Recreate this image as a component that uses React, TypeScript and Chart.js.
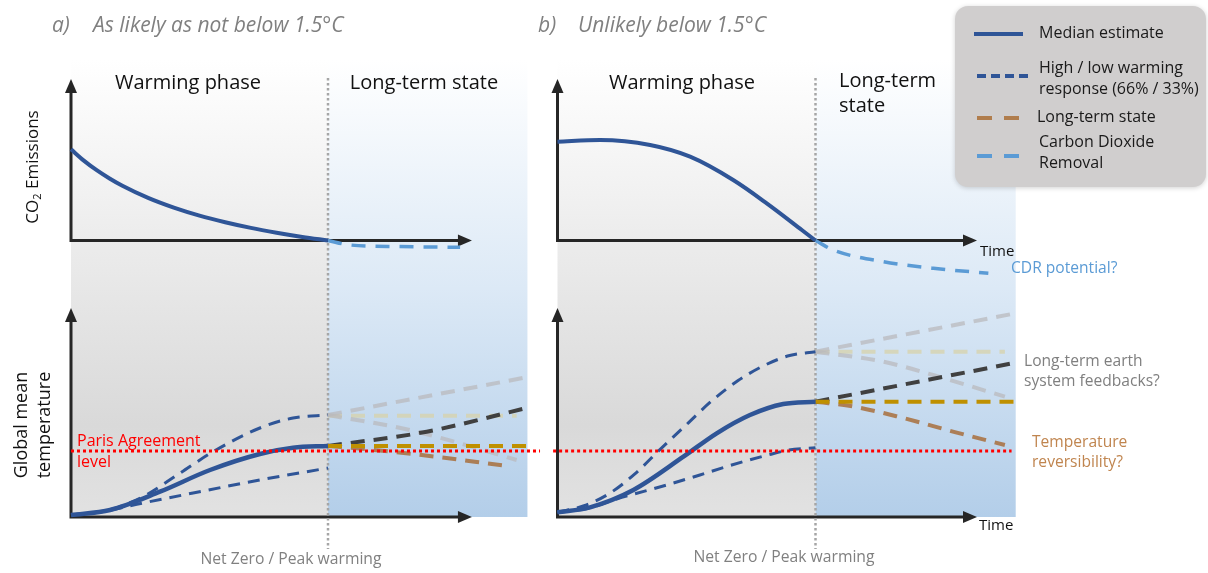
import React, { useEffect, useRef } from "react";
import { Chart, registerables } from "chart.js";
Chart.register(...registerables);

// ---------- DATA (schematic units: time 0 = start, 10 = net zero) ----------
// Panel a — CO2 emissions
const aEmisT = [0, 0.5, 1, 1.5, 2, 3, 4, 5, 6, 7, 8, 9, 10];
const aEmisMedian = [1.013, 0.888, 0.781, 0.689, 0.608, 0.473, 0.365, 0.276, 0.203, 0.14, 0.087, 0.04, 0];
const aCdrT = [10, 10.86, 12.8, 15.14];
const aCdr = [0, -0.05, -0.067, -0.076];
// Panel b — CO2 emissions
const bEmisT = [0, 1.65, 3.59, 5.14, 6.81, 8.11, 9.47, 10];
const bEmisMedian = [1.098, 1.117, 1.061, 0.931, 0.672, 0.413, 0.117, 0];
const bCdrT = [10, 10.69, 12.63, 14.57, 16.7];
const bCdr = [0, -0.106, -0.236, -0.309, -0.364];

// Panel a — temperature
const aMedT = [0, 1.52, 3.46, 5.41, 7.35, 8.64, 10];
const aMed = [0.045, 0.16, 0.575, 1.068, 1.432, 1.575, 1.614];
const aHighT = [0, 1.52, 2.8, 4.2, 5.53, 7.35, 8.64, 10];
const aHigh = [0.045, 0.17, 0.461, 0.98, 1.484, 2.023, 2.25, 2.318];
const aLowT = [0, 1.2, 2.8, 4.75, 7.35, 10];
const aLow = [0.045, 0.12, 0.318, 0.545, 0.841, 1.114];
const aFbUpT = [10, 17.73];
const aFbUp = [2.318, 3.175];
const aFbFlatT = [10, 17.34];
const aFbFlat = [2.3, 2.3];
const aFbDownT = [10, 13.19, 15.14, 17.34];
const aFbDown = [2.318, 1.977, 1.675, 1.295];
const aDarkT = [10, 13.84, 17.67];
const aDark = [1.614, 1.939, 2.47];
const aGoldT = [10, 17.78];
const aGold = [1.614, 1.614];
const aBrownT = [10, 11.5, 13.31, 16.89];
const aBrown = [1.614, 1.54, 1.432, 1.166];
const aParisT = [0, 18.25];

// Panel b — temperature
const bMedT = [0, 1.26, 2.94, 4.88, 6.17, 7.46, 8.75, 10];
const bMed = [0.107, 0.22, 0.614, 1.37, 1.902, 2.318, 2.568, 2.62];
const bHighT = [0, 1, 2, 3, 4, 5, 6, 7, 8, 9, 10];
const bHigh = [0.107, 0.25, 0.53, 0.98, 1.55, 2.1, 2.65, 3.1, 3.44, 3.67, 3.757];
const bLowT = [0, 1.2, 2.29, 4.23, 5.52, 6.36, 7.27, 8.17, 8.95, 10];
const bLow = [0.107, 0.2, 0.409, 0.727, 0.955, 1.11, 1.27, 1.41, 1.52, 1.575];
const bFbUpT = [10, 17.76];
const bFbUp = [3.757, 4.63];
const bFbFlatT = [10, 17.34];
const bFbFlat = [3.757, 3.757];
const bFbDownT = [10, 12.62, 15.21, 17.34];
const bFbDown = [3.757, 3.53, 3.114, 2.734];
const bDarkT = [10, 17.76];
const bDark = [2.62, 3.507];
const bGoldT = [10, 17.76];
const bGold = [2.62, 2.62];
const bBrownT = [10, 11.3, 13.27, 15.4, 17.34];
const bBrown = [2.62, 2.53, 2.27, 1.93, 1.636];
const bParisT = [-0.17, 17.6];

const parisLevel = 1.5;

// ---------- helpers ----------
const pts = (ts: number[], vs: number[]) => ts.map((t, i) => ({ x: t, y: vs[i] }));
const C = {
  blue: "#2f5597",
  cdr: "#5b9bd5",
  lightGray: "rgba(185,185,190,0.75)",
  beige: "rgba(215,210,170,0.75)",
  dark: "#404040",
  gold: "#bf9000",
  brown: "rgba(168,110,60,0.85)",
  red: "#ff0000",
};
const FONT = "'Open Sans', 'Noto Sans', sans-serif";

function line(label: string, data: any[], xID: string, yID: string, color: string, width: number, dash: number[] = [], smooth = true) {
  return {
    label,
    data,
    xAxisID: xID,
    yAxisID: yID,
    borderColor: color,
    borderWidth: width,
    borderDash: dash,
    pointRadius: 0,
    fill: false,
    cubicInterpolationMode: smooth ? "monotone" : "default",
    tension: 0,
    borderCapStyle: "butt",
  };
}

const LT_DASH = [14, 9];

const decorPlugin = {
  id: "decor",
  beforeDatasetsDraw(chart: any) {
    const { ctx, scales } = chart;
    const xA = scales.xA, xB = scales.xB, yE = scales.yE, yT = scales.yT;
    const top = 60;
    const bottom = yT.getPixelForValue(0);
    const panels = [
      { x: xA, end: 17.76, tip: 15.6 },
      { x: xB, end: 17.76, tip: 16.26 },
    ];
    ctx.save();
    for (const p of panels) {
      const x0 = p.x.getPixelForValue(0);
      const xn = p.x.getPixelForValue(10);
      const xe = p.x.getPixelForValue(p.end);
      const g = ctx.createLinearGradient(0, top, 0, bottom);
      g.addColorStop(0, "#ffffff");
      g.addColorStop(0.5, "#e7e7e7");
      g.addColorStop(0.8, "#d9d9d9");
      g.addColorStop(1, "#e2e2e2");
      ctx.fillStyle = g;
      ctx.fillRect(x0, top, xn - x0, bottom - top);
      const gb = ctx.createLinearGradient(0, top, 0, bottom);
      gb.addColorStop(0, "#ffffff");
      gb.addColorStop(0.5, "#dce9f6");
      gb.addColorStop(1, "#b3cee9");
      ctx.fillStyle = gb;
      ctx.fillRect(xn, top, xe - xn, bottom - top);
    }
    // axes with arrows
    ctx.strokeStyle = "#262626";
    ctx.fillStyle = "#262626";
    ctx.lineWidth = 3;
    const arrowUp = (x: number, y: number) => {
      ctx.beginPath();
      ctx.moveTo(x, y);
      ctx.lineTo(x - 6, y + 14);
      ctx.lineTo(x + 6, y + 14);
      ctx.closePath();
      ctx.fill();
    };
    const arrowRight = (x: number, y: number) => {
      ctx.beginPath();
      ctx.moveTo(x, y);
      ctx.lineTo(x - 14, y - 6);
      ctx.lineTo(x - 14, y + 6);
      ctx.closePath();
      ctx.fill();
    };
    for (const p of panels) {
      const x0 = p.x.getPixelForValue(0);
      const xt = p.x.getPixelForValue(p.tip);
      for (const [ys, tipV] of [[yE, 1.794], [yT, 4.75]] as any) {
        const y0 = ys.getPixelForValue(0);
        const yt = ys.getPixelForValue(tipV);
        ctx.beginPath();
        ctx.moveTo(x0, y0 + 1.5);
        ctx.lineTo(x0, yt + 10);
        ctx.moveTo(x0 - 1.5, y0);
        ctx.lineTo(xt - 10, y0);
        ctx.stroke();
        arrowUp(x0, yt);
        arrowRight(xt, y0);
      }
    }
    // net-zero dotted verticals
    ctx.strokeStyle = "#a6a6a6";
    ctx.lineWidth = 2.5;
    ctx.setLineDash([2.5, 2.5]);
    for (const p of panels) {
      const xn = p.x.getPixelForValue(10);
      ctx.beginPath();
      ctx.moveTo(xn, 78);
      ctx.lineTo(xn, 549);
      ctx.stroke();
    }
    ctx.restore();
  },
  afterDraw(chart: any) {
    const { ctx } = chart;
    ctx.save();
    const txt = (s: string, x: number, y: number, size: number, color: string, align = "left", base = "middle", style = "") => {
      ctx.font = `${style} ${size}px ${FONT}`;
      ctx.fillStyle = color;
      ctx.textAlign = align;
      ctx.textBaseline = base;
      ctx.fillText(s, x, y);
    };
    // titles
    txt("a)", 52, 32, 21, "#808080", "left", "alphabetic", "italic");
    txt("As likely as not below 1.5°C", 93, 32, 21, "#808080", "left", "alphabetic", "italic");
    txt("b)", 538, 32, 21, "#808080", "left", "alphabetic", "italic");
    txt("Unlikely below 1.5°C", 578, 32, 21, "#808080", "left", "alphabetic", "italic");
    // phase labels
    txt("Warming phase", 188, 89, 20, "#111", "center", "alphabetic");
    txt("Long-term state", 424, 89, 20, "#111", "center", "alphabetic");
    txt("Warming phase", 682, 89, 20, "#111", "center", "alphabetic");
    txt("Long-term", 839, 87, 20, "#111", "left", "alphabetic");
    txt("state", 839, 112, 20, "#111", "left", "alphabetic");
    // Time labels
    txt("Time", 980, 252, 15, "#111");
    txt("Time", 979, 526, 15, "#111");
    // annotations
    txt("CDR potential?", 1011, 269, 15.6, C.cdr);
    txt("Long-term earth", 1024, 362, 15.6, "#7f7f7f");
    txt("system feedbacks?", 1024, 382, 15.6, "#7f7f7f");
    txt("Temperature", 1032, 443, 15.6, "#c0854f");
    txt("reversibility?", 1032, 463, 15.6, "#c0854f");
    txt("Paris Agreement", 77, 446, 16, C.red, "left", "alphabetic");
    txt("level", 77, 467, 16, C.red, "left", "alphabetic");
    txt("Net Zero / Peak warming", 291, 560, 15.7, "#808080", "center");
    txt("Net Zero / Peak warming", 784, 558, 15.7, "#808080", "center");

    // rotated axis titles
    ctx.save();
    ctx.translate(33, 167);
    ctx.rotate(-Math.PI / 2);
    ctx.fillStyle = "#111";
    ctx.textBaseline = "middle";
    ctx.textAlign = "left";
    ctx.font = `17px ${FONT}`;
    const w1 = ctx.measureText("CO").width;
    const w3 = ctx.measureText(" Emissions").width;
    ctx.font = `11px ${FONT}`;
    const w2 = ctx.measureText("2").width;
    let sx = -(w1 + w2 + w3) / 2;
    ctx.font = `17px ${FONT}`;
    ctx.fillText("CO", sx, 0);
    ctx.font = `11px ${FONT}`;
    ctx.fillText("2", sx + w1, 5);
    ctx.font = `17px ${FONT}`;
    ctx.fillText(" Emissions", sx + w1 + w2, 0);
    ctx.restore();

    ctx.save();
    ctx.translate(22, 425);
    ctx.rotate(-Math.PI / 2);
    txt("Global mean", 0, 0, 18, "#111", "center");
    ctx.restore();
    ctx.save();
    ctx.translate(45, 425);
    ctx.rotate(-Math.PI / 2);
    txt("temperature", 0, 0, 18, "#111", "center");
    ctx.restore();

    // legend box
    ctx.save();
    ctx.shadowColor = "rgba(0,0,0,0.18)";
    ctx.shadowBlur = 5;
    ctx.shadowOffsetY = 1;
    ctx.fillStyle = "#d0cece";
    ctx.beginPath();
    (ctx as any).roundRect(955, 6, 251, 181, 13);
    ctx.fill();
    ctx.restore();
    const legLine = (x1: number, x2: number, y: number, color: string, dash: number[]) => {
      ctx.save();
      ctx.strokeStyle = color;
      ctx.lineWidth = 4;
      ctx.setLineDash(dash);
      ctx.beginPath();
      ctx.moveTo(x1, y);
      ctx.lineTo(x2, y);
      ctx.stroke();
      ctx.restore();
    };
    legLine(974, 1023, 34, C.blue, []);
    legLine(977, 1028, 76, C.blue, [9, 5]);
    legLine(977, 1020, 118, "#b07d4d", [15, 12]);
    legLine(977, 1020, 156, C.cdr, [15, 12]);
    txt("Median estimate", 1039, 33, 16, "#1a1a1a");
    txt("High / low warming", 1039, 68, 16, "#1a1a1a");
    txt("response (66% / 33%)", 1039, 89, 16, "#1a1a1a");
    txt("Long-term state", 1037, 117, 16, "#1a1a1a");
    txt("Carbon Dioxide", 1039, 142, 16, "#1a1a1a");
    txt("Removal", 1039, 163, 16, "#1a1a1a");
    ctx.restore();
  },
};

export default function App() {
  const ref = useRef<HTMLCanvasElement | null>(null);
  useEffect(() => {
    if (!ref.current) return;
    const datasets: any[] = [
      // drawn on top first
      line("Paris a", pts(aParisT, [parisLevel, parisLevel]), "xA", "yT", C.red, 3, [3, 3], false),
      line("Paris b", pts(bParisT, [parisLevel, parisLevel]), "xB", "yT", C.red, 3, [3, 3], false),
      line("Emis a", pts(aEmisT, aEmisMedian), "xA", "yE", C.blue, 4),
      line("Emis b", pts(bEmisT, bEmisMedian), "xB", "yE", C.blue, 4),
      line("CDR a", pts(aCdrT, aCdr), "xA", "yE", C.cdr, 3.5, [14, 10]),
      line("CDR b", pts(bCdrT, bCdr), "xB", "yE", C.cdr, 3.5, [14, 10]),
      line("Median a", pts(aMedT, aMed), "xA", "yT", C.blue, 4.5),
      line("Median b", pts(bMedT, bMed), "xB", "yT", C.blue, 4.5),
      line("High a", pts(aHighT, aHigh), "xA", "yT", C.blue, 3, [12, 8]),
      line("Low a", pts(aLowT, aLow), "xA", "yT", C.blue, 3, [12, 8]),
      line("High b", pts(bHighT, bHigh), "xB", "yT", C.blue, 3, [12, 8]),
      line("Low b", pts(bLowT, bLow), "xB", "yT", C.blue, 3, [12, 8]),
      line("Gold a", pts(aGoldT, aGold), "xA", "yT", C.gold, 4, LT_DASH, false),
      line("Gold b", pts(bGoldT, bGold), "xB", "yT", C.gold, 4, LT_DASH, false),
      line("Dark a", pts(aDarkT, aDark), "xA", "yT", C.dark, 4, LT_DASH),
      line("Dark b", pts(bDarkT, bDark), "xB", "yT", C.dark, 4, LT_DASH, false),
      line("Brown a", pts(aBrownT, aBrown), "xA", "yT", C.brown, 4, LT_DASH),
      line("Brown b", pts(bBrownT, bBrown), "xB", "yT", C.brown, 4, LT_DASH),
      line("FbDown a", pts(aFbDownT, aFbDown), "xA", "yT", C.lightGray, 4, LT_DASH),
      line("FbDown b", pts(bFbDownT, bFbDown), "xB", "yT", C.lightGray, 4, LT_DASH),
      line("FbUp a", pts(aFbUpT, aFbUp), "xA", "yT", C.lightGray, 4, LT_DASH, false),
      line("FbUp b", pts(bFbUpT, bFbUp), "xB", "yT", C.lightGray, 4, LT_DASH, false),
      line("FbFlat a", pts(aFbFlatT, aFbFlat), "xA", "yT", C.beige, 4, LT_DASH, false),
      line("FbFlat b", pts(bFbFlatT, bFbFlat), "xB", "yT", C.beige, 4, LT_DASH, false),
    ];
    const chart = new Chart(ref.current, {
      type: "line",
      data: { datasets },
      options: {
        animation: false,
        responsive: false,
        devicePixelRatio: 1,
        parsing: false,
        normalized: true,
        layout: { padding: 0 },
        events: [],
        plugins: { legend: { display: false }, tooltip: { enabled: false }, title: { display: false } },
        scales: {
          xA: { type: "linear", axis: "x", display: false, min: -71 / 25.7, max: (1208 - 71) / 25.7 },
          xB: { type: "linear", axis: "x", display: false, min: -557.5 / 25.8, max: (1208 - 557.5) / 25.8 },
          yE: { type: "linear", axis: "y", display: false, min: -(573 - 240.5) / 90, max: 240.5 / 90 },
          yT: { type: "linear", axis: "y", display: false, min: -(573 - 517) / 44, max: 517 / 44 },
        },
      } as any,
      plugins: [decorPlugin as any],
    });
    return () => chart.destroy();
  }, []);
  return (
    <div style={{ position: "absolute", left: 0, top: 0, width: 1208, height: 573, background: "#ffffff" }}>
      <canvas ref={ref} width={1208} height={573} style={{ display: "block", width: 1208, height: 573 }} />
    </div>
  );
}
